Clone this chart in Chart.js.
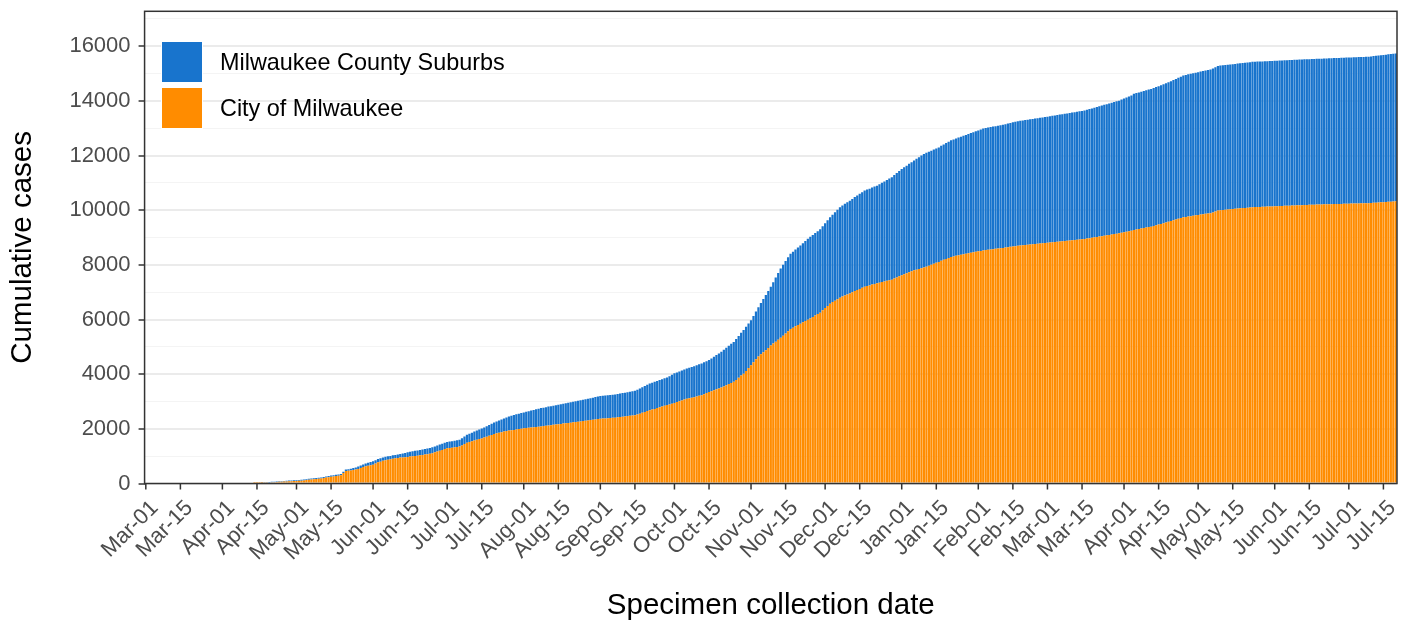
<!DOCTYPE html>
<html>
<head>
<meta charset="utf-8">
<script src="https://cdn.jsdelivr.net/npm/chart.js@4.4.0/dist/chart.umd.min.js"></script>
<style>
  body { margin: 0; background: #fff; }
  #wrap { position: relative; width: 1409px; height: 623px; }
  #legend { position: absolute; left: 161px; top: 41px; font-family: 'Liberation Sans', Arial, sans-serif; font-size: 23.4px; color: #000; }
  .item { display: flex; align-items: center; height: 42px; margin-bottom: 4px; }
  .key { width: 42px; height: 42px; margin-right: 17px; box-sizing: border-box; border: 1px solid #fff; }
</style>
</head>
<body>
<div id="wrap">
  <canvas id="casesChart"></canvas>
  <div id="legend">
    <div class="item"><span class="key" style="background:#1874CD"></span>Milwaukee County Suburbs</div>
    <div class="item"><span class="key" style="background:#FF8C00"></span>City of Milwaukee</div>
  </div>
</div>
<script>
// daily cumulative cases, first day 2020-03-01
const startDate = '2020-03-01';
const monthNames = ['Jan', 'Feb', 'Mar', 'Apr', 'May', 'Jun', 'Jul', 'Aug', 'Sep', 'Oct', 'Nov', 'Dec'];
const tickDays = ['01', '15'];
const yTicks = [0, 2000, 4000, 6000, 8000, 10000, 12000, 14000, 16000];
const yMinor = [1000, 3000, 5000, 7000, 9000, 11000, 13000, 15000, 17000];

const cityCases = [
  0,0,0,0,0,0,0,0,0,0, 0,0,0,0,0,0,0,0,0,0, 0,0,0,0,0,0,0,0,0,0, 0,0,0,0,0,0,0,0,0,0,
  0,0,0,0,2,5,12,18,24,30,
  38,45,50,55,60,64,70,76,80,84,
  87,90,97,105,114,124,135,145,153,165,
  175,186,200,215,230,245,258,272,285,300,
  380,460,470,480,495,510,535,565,600,630,
  650,670,690,730,775,800,830,850,870,885,
  905,920,935,950,955,962,970,985,1000,1010,
  1020,1032,1045,1058,1070,1090,1110,1140,1170,1200,
  1230,1260,1290,1300,1312,1325,1338,1350,1395,1445,
  1490,1520,1545,1575,1600,1625,1650,1680,1715,1745,
  1775,1810,1840,1860,1880,1900,1918,1935,1948,1960,
  1975,1990,2005,2020,2030,2040,2050,2060,2070,2080,
  2090,2100,2112,2125,2135,2148,2160,2170,2180,2192,
  2203,2215,2226,2238,2250,2260,2272,2285,2296,2308,
  2320,2332,2345,2358,2370,2376,2382,2390,2396,2403,
  2410,2420,2432,2444,2455,2466,2478,2490,2500,2525,
  2555,2585,2620,2650,2680,2705,2730,2760,2790,2815,
  2845,2870,2895,2920,2950,2980,3010,3040,3070,3100,
  3120,3140,3160,3185,3208,3230,3270,3310,3350,3380,
  3410,3445,3478,3510,3550,3595,3640,3680,3720,3790,
  3870,3950,4020,4120,4230,4330,4440,4550,4650,4730,
  4800,4880,4960,5050,5120,5190,5260,5330,5410,5490,
  5570,5650,5700,5750,5800,5850,5900,5950,5995,6040,
  6090,6145,6200,6250,6340,6420,6500,6580,6640,6690,
  6745,6800,6840,6880,6915,6950,6995,7040,7080,7120,
  7160,7200,7225,7250,7280,7305,7330,7350,7372,7395,
  7415,7438,7460,7500,7540,7580,7620,7655,7690,7730,
  7765,7800,7825,7850,7875,7900,7935,7970,8005,8040,
  8075,8110,8150,8185,8220,8255,8290,8310,8330,8350,
  8370,8390,8410,8430,8448,8465,8480,8495,8512,8530,
  8542,8553,8564,8576,8587,8598,8610,8620,8633,8646,
  8660,8673,8686,8700,8710,8718,8727,8736,8745,8754,
  8763,8772,8782,8792,8801,8810,8820,8829,8838,8847,
  8856,8866,8875,8884,8893,8903,8913,8922,8932,8941,
  8950,8963,8978,8992,9008,9022,9036,9050,9066,9082,
  9097,9113,9128,9144,9160,9177,9194,9211,9228,9245,
  9280,9297,9314,9331,9348,9366,9383,9400,9425,9450,
  9475,9500,9528,9555,9580,9607,9633,9660,9687,9713,
  9740,9755,9770,9784,9798,9812,9826,9840,9855,9870,
  9880,9890,9920,9955,9990,10000,10010,10018,10027,10035,
  10044,10052,10061,10070,10078,10086,10094,10102,10110,10114,
  10118,10121,10125,10129,10133,10137,10141,10145,10148,10152,
  10156,10160,10164,10167,10171,10175,10178,10182,10186,10190,
  10193,10197,10200,10203,10207,10210,10212,10215,10217,10220,
  10222,10225,10227,10230,10232,10235,10237,10240,10242,10245,
  10247,10250,10252,10255,10257,10260,10266,10272,10278,10284,
  10290,10296,10302,10308,10314,10321,10330
];

const suburbCases = [
  0,0,0,0,0,0,0,0,0,0, 0,0,0,0,0,0,0,0,0,0, 0,0,0,0,0,0,0,0,0,0, 0,0,0,0,0,0,0,0,0,0,
  0,0,0,0,1,2,5,7,9,11,
  13,15,17,18,20,22,23,25,26,28,
  29,30,31,32,33,34,35,35,35,35,
  35,37,39,41,43,45,45,45,45,45,
  48,50,56,63,72,80,85,90,95,100,
  110,118,125,125,125,125,125,125,125,125,
  125,125,125,125,140,155,170,175,180,185,
  190,195,200,205,210,212,215,218,220,223,
  225,228,230,234,238,242,246,250,263,277,
  290,302,314,325,337,348,360,372,384,395,
  407,418,430,447,464,481,498,515,533,550,
  558,565,573,580,593,606,619,631,644,657,
  670,676,682,689,695,701,707,714,720,727,
  734,741,748,755,762,768,775,782,789,796,
  803,810,816,823,830,833,837,840,843,847,
  850,855,860,865,870,875,880,885,890,905,
  920,935,950,965,980,984,989,993,997,1001,
  1006,1010,1033,1057,1080,1086,1092,1098,1104,1110,
  1118,1127,1135,1143,1152,1160,1163,1167,1170,1198,
  1226,1254,1282,1310,1340,1370,1400,1430,1460,1495,
  1530,1565,1600,1613,1627,1640,1693,1747,1800,1875,
  1950,2017,2083,2150,2248,2345,2443,2540,2595,2650,
  2705,2760,2785,2810,2835,2860,2893,2925,2958,2990,
  3005,3020,3035,3050,3078,3105,3133,3160,3198,3235,
  3273,3310,3333,3355,3378,3400,3420,3440,3460,3480,
  3500,3520,3530,3540,3550,3560,3570,3600,3630,3660,
  3690,3720,3750,3785,3820,3855,3890,3916,3942,3968,
  3994,4020,4055,4090,4125,4160,4165,4170,4175,4180,
  4185,4190,4206,4222,4238,4254,4270,4283,4296,4309,
  4321,4334,4347,4360,4377,4393,4410,4427,4443,4460,
  4466,4473,4479,4485,4491,4498,4504,4510,4518,4527,
  4535,4543,4552,4560,4565,4569,4574,4578,4583,4588,
  4592,4597,4602,4606,4611,4615,4620,4626,4631,4637,
  4643,4649,4654,4660,4666,4671,4677,4683,4689,4694,
  4700,4711,4723,4734,4746,4757,4769,4780,4790,4800,
  4810,4820,4830,4840,4850,4872,4893,4915,4937,4958,
  4980,4989,4997,5006,5014,5023,5031,5040,5049,5057,
  5066,5074,5083,5091,5100,5115,5130,5145,5160,5175,
  5190,5196,5203,5209,5215,5222,5228,5235,5241,5247,
  5254,5260,5270,5280,5290,5292,5294,5296,5298,5300,
  5302,5304,5306,5308,5310,5312,5314,5316,5320,5321,
  5321,5322,5322,5323,5323,5324,5324,5325,5325,5326,
  5326,5327,5327,5328,5328,5329,5329,5330,5330,5331,
  5331,5332,5332,5333,5334,5335,5336,5337,5339,5340,
  5341,5342,5344,5345,5346,5347,5349,5350,5351,5352,
  5354,5355,5356,5357,5359,5360,5364,5369,5373,5378,
  5382,5387,5391,5396,5400,5405,5410
];

// one category per day
const dates = [];
const d0 = new Date(startDate + 'T00:00:00Z');
for (let i = 0; i < cityCases.length; i++) {
  const d = new Date(d0.getTime() + i * 86400000);
  dates.push(d.toISOString().slice(0, 10));
}

function tickLabel(i) {
  const d = dates[i];
  if (!d || !tickDays.includes(d.slice(8))) return null;
  return monthNames[+d.slice(5, 7) - 1] + '-' + d.slice(8);
}

const isMajor = (v) => yTicks.includes(Math.round(v));
const font = 'Liberation Sans';

// ggplot style panel border over the bars, x tick marks and 45 degree date labels
const panelBorder = {
  id: 'panelBorder',
  afterDraw(chart) {
    const { ctx, chartArea: a } = chart;
    const xs = chart.scales.x;
    ctx.save();
    ctx.strokeStyle = '#333333';
    ctx.lineWidth = 1.5;
    ctx.beginPath();
    dates.forEach((d, i) => {
      if (!tickLabel(i)) return;
      const x = xs.getPixelForValue(i);
      ctx.moveTo(x, a.bottom);
      ctx.lineTo(x, a.bottom + 6);
    });
    ctx.stroke();
    ctx.strokeRect(a.left, a.top, a.right - a.left, a.bottom - a.top);

    ctx.fillStyle = '#4D4D4D';
    ctx.font = '22px "' + font + '"';
    ctx.textAlign = 'right';
    ctx.textBaseline = 'middle';
    dates.forEach((d, i) => {
      const lab = tickLabel(i);
      if (!lab) return;
      ctx.save();
      ctx.translate(xs.getPixelForValue(i) + 9, a.bottom + 21);
      ctx.rotate(-Math.PI / 4);
      ctx.fillText(lab, 0, 0);
      ctx.restore();
    });
    ctx.restore();
  }
};

new Chart(document.getElementById('casesChart'), {
  type: 'bar',
  data: {
    labels: dates,
    datasets: [
      { label: 'City of Milwaukee', data: cityCases, backgroundColor: '#FF8C00', borderWidth: 0 },
      { label: 'Milwaukee County Suburbs', data: suburbCases, backgroundColor: '#1874CD', borderWidth: 0 }
    ]
  },
  options: {
    responsive: true,
    maintainAspectRatio: false,
    animation: false,
    datasets: { bar: { categoryPercentage: 0.9, barPercentage: 1 } },
    layout: { padding: { left: 0, right: 12, top: 0, bottom: 0 } },
    plugins: {
      legend: { display: false },
      tooltip: { enabled: false }
    },
    scales: {
      x: {
        stacked: true,
        border: { display: false },
        grid: { display: false, drawTicks: false },
        ticks: { display: false },
        title: {
          display: true,
          text: 'Specimen collection date',
          color: '#000',
          font: { family: font, size: 29.5, lineHeight: 1.0 },
          padding: { top: 108, bottom: 2 }
        }
      },
      y: {
        stacked: true,
        min: 0,
        max: 17280,
        border: { display: false },
        afterBuildTicks: (scale) => {
          scale.ticks = yTicks.concat(yMinor).sort((a, b) => a - b).map((v) => ({ value: v }));
        },
        grid: {
          color: (c) => isMajor(c.tick.value) ? '#EBEBEB' : '#F4F4F4',
          lineWidth: (c) => isMajor(c.tick.value) ? 2 : 1,
          tickLength: 6,
          tickWidth: 1.5,
          tickColor: (c) => isMajor(c.tick.value) ? '#333333' : 'rgba(0,0,0,0)'
        },
        ticks: {
          autoSkip: false,
          padding: 8,
          color: '#4D4D4D',
          font: { family: font, size: 22, lineHeight: 0.3 },
          callback: (v) => isMajor(v) ? String(v) : ''
        },
        title: {
          display: true,
          text: 'Cumulative cases',
          color: '#000',
          font: { family: font, size: 29.5 },
          padding: { top: 5, bottom: 21 }
        }
      }
    }
  },
  plugins: [panelBorder]
});
</script>
</body>
</html>
